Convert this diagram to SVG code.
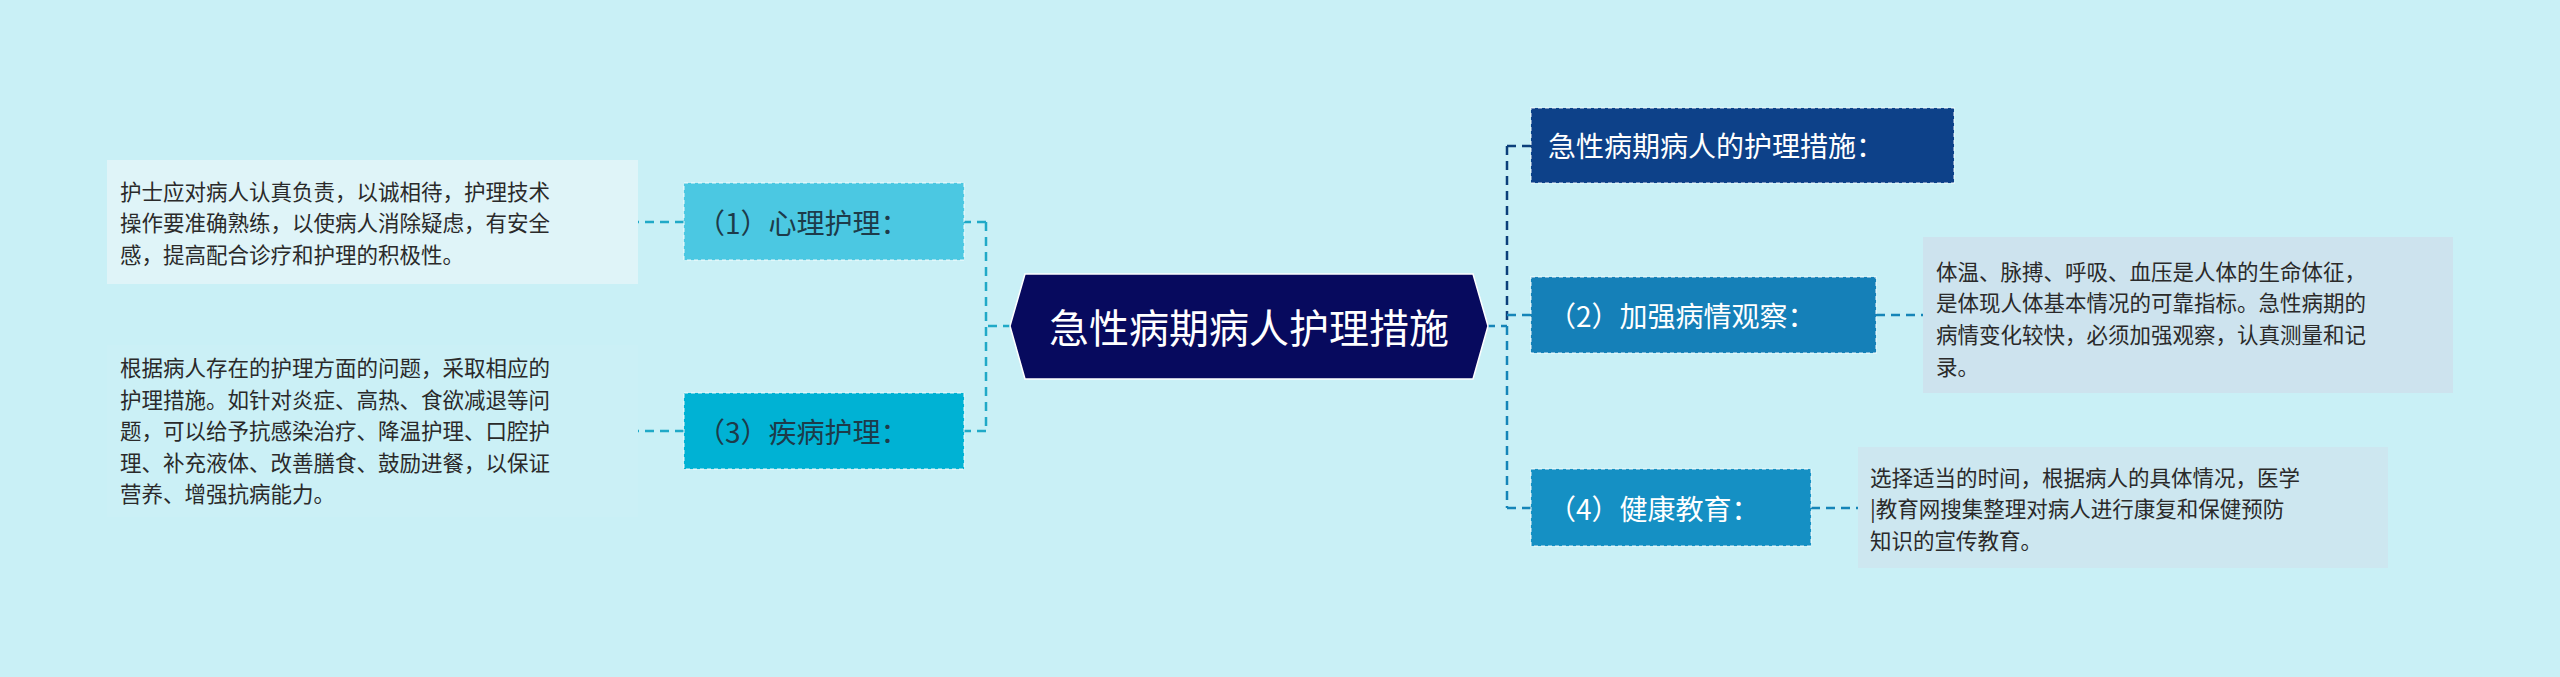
<svg xmlns="http://www.w3.org/2000/svg" width="2560" height="677" viewBox="0 0 2560 677">
<style>
text{font-family:"Noto Sans CJK SC","Noto Sans",sans-serif}
.d{font-size:21.5px;fill:#2a2a2a}
.n{font-size:28px;fill:#fff;dominant-baseline:central}
.nl{font-size:28px;fill:#1d3b4a;dominant-baseline:central}
.c{fill:none;stroke-width:2.5;stroke-dasharray:9 6}
.nb{stroke:#fff;stroke-width:1.5;stroke-dasharray:4 3;stroke-opacity:0.6}
</style>
<rect width="2560" height="677" fill="#c9f0f6"/>
<g id="connectors">
<path class="c" stroke="#1fa9c7" d="M1012 326H986M986 222V431M986 222H964M986 431H964"/>
<path class="c" stroke="#1fa9c7" d="M684 222H638M684 431H638"/>
<path class="c" stroke="#0b3f7a" d="M1507 146V326M1507 146H1531"/>
<path class="c" stroke="#1585b8" d="M1486 326H1507M1507 326V508M1507 315H1531M1507 508H1531"/>
<path class="c" stroke="#1585b8" d="M1876 315H1923M1811 508H1858"/>
</g>
<g id="center">
<polygon points="1025,274 1473,274 1488,326 1473,379 1025,379 1010,326" fill="#070a5e" stroke="#fff" stroke-width="1.5"/>
<text x="1249" y="326" text-anchor="middle" dominant-baseline="central" font-size="40" fill="#fff">急性病期病人护理措施</text>
</g>
<g id="n0">
<rect class="nb" x="1531" y="108" width="423" height="75" fill="#0d4189"/>
<text class="n" x="1548" y="145">急性病期病人的护理措施：</text>
</g>
<g id="n2">
<rect class="nb" x="1531" y="277" width="345" height="76" fill="#1580b8"/>
<text class="n" x="1548" y="315">（2）加强病情观察：</text>
</g>
<g id="n4">
<rect class="nb" x="1531" y="469" width="280" height="77" fill="#1590c4"/>
<text class="n" x="1548" y="508">（4）健康教育：</text>
</g>
<g id="n1">
<rect class="nb" x="684" y="183" width="280" height="77" fill="#4bc8e2"/>
<text class="nl" x="697" y="222">（1）心理护理：</text>
</g>
<g id="n3">
<rect class="nb" x="684" y="393" width="280" height="76" fill="#00b2d4"/>
<text class="nl" x="697" y="431">（3）疾病护理：</text>
</g>
<g id="d1">
<rect x="107" y="160" width="531" height="124" fill="#dff4f8"/>
<text class="d" x="120" y="200">护士应对病人认真负责，以诚相待，护理技术</text>
<text class="d" x="120" y="231">操作要准确熟练，以使病人消除疑虑，有安全</text>
<text class="d" x="120" y="263">感，提高配合诊疗和护理的积极性。</text>
</g>
<g id="d3">
<rect x="107" y="345" width="531" height="172" fill="#cbf0f6"/>
<text class="d" x="120" y="376">根据病人存在的护理方面的问题，采取相应的</text>
<text class="d" x="120" y="408">护理措施。如针对炎症、高热、食欲减退等问</text>
<text class="d" x="120" y="439">题，可以给予抗感染治疗、降温护理、口腔护</text>
<text class="d" x="120" y="471">理、补充液体、改善膳食、鼓励进餐，以保证</text>
<text class="d" x="120" y="502">营养、增强抗病能力。</text>
</g>
<g id="d2">
<rect x="1923" y="237" width="530" height="156" fill="#cde3ee"/>
<text class="d" x="1936" y="280">体温、脉搏、呼吸、血压是人体的生命体征，</text>
<text class="d" x="1936" y="311">是体现人体基本情况的可靠指标。急性病期的</text>
<text class="d" x="1936" y="343">病情变化较快，必须加强观察，认真测量和记</text>
<text class="d" x="1936" y="375">录。</text>
</g>
<g id="d4">
<rect x="1858" y="447" width="530" height="121" fill="#cde7f0"/>
<text class="d" x="1870" y="486">选择适当的时间，根据病人的具体情况，医学</text>
<text class="d" x="1870" y="517">|教育网搜集整理对病人进行康复和保健预防</text>
<text class="d" x="1870" y="549">知识的宣传教育。</text>
</g>
</svg>
